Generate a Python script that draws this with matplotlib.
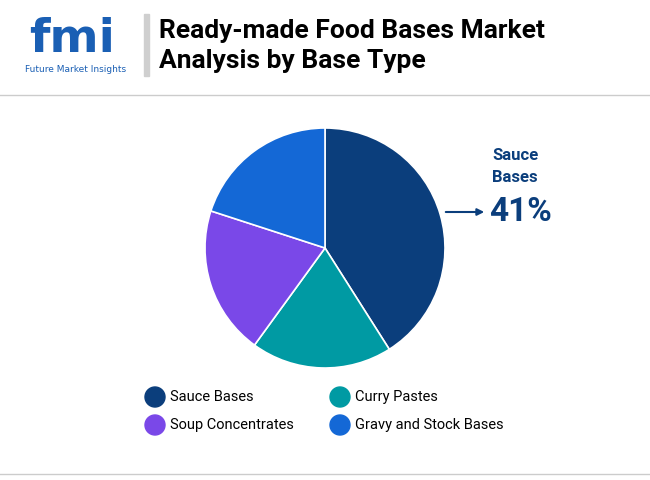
import matplotlib
matplotlib.use("Agg")
import matplotlib.pyplot as plt
from matplotlib.patches import Circle

categories = ["Sauce Bases", "Curry Pastes", "Soup Concentrates", "Gravy and Stock Bases"]
values = [41, 19, 20, 20]
colors = ["#0b3e7c", "#009aa3", "#7a48e8", "#1468d6"]

W, H = 650, 480
fig = plt.figure(figsize=(6.5, 4.8), dpi=100)
fig.patch.set_facecolor("white")
bg = fig.add_axes([0, 0, 1, 1]); bg.set_xlim(0, W); bg.set_ylim(H, 0); bg.axis("off")

# header
bg.plot([0, W], [95, 95], color="#cccccc", lw=1)
bg.plot([0, W], [474, 474], color="#cccccc", lw=1)
bg.add_patch(plt.Rectangle((144, 14), 5, 62, color="#cfcfcf"))
bg.text(159, 31, "Ready-made Food Bases Market", fontsize=19, fontweight="bold", va="center", family="Roboto")
bg.text(159, 61, "Analysis by Base Type", fontsize=19, fontweight="bold", va="center", family="Roboto")
bg.text(72, 40, "fmi", fontsize=34, fontweight="bold", color="#1a5fb4", ha="center", va="center", family="DejaVu Sans")
bg.text(76, 69, "Future Market Insights", fontsize=6.5, color="#1a5fb4", ha="center", va="center")

# pie
r = 120; cx, cy = 325, 248
ax = fig.add_axes([(cx - r) / W, 1 - (cy + r) / H, 2 * r / W, 2 * r / H])
ax.pie(values, colors=colors, startangle=90, counterclock=False,
       wedgeprops=dict(edgecolor="white", linewidth=1.2))
ax.set_aspect("auto")
ax.set_xlim(-1, 1); ax.set_ylim(-1, 1)

# annotation
bg.annotate("", xy=(487, 212), xytext=(443, 212),
            arrowprops=dict(arrowstyle="-|>", color="#0b3e7c", lw=1.5))
bg.text(492, 156, "Sauce", fontsize=12, fontweight="bold", color="#0b3e7c", va="center", family="Roboto")
bg.text(492, 178, "Bases", fontsize=12, fontweight="bold", color="#0b3e7c", va="center", family="Roboto")
bg.text(489, 212, "41%", fontsize=24, fontweight="bold", color="#0b3e7c", va="center", family="Roboto")

# legend
pos = [(155, 397), (340, 397), (155, 425), (340, 425)]
for (x, y), lab, c in zip(pos, categories, colors):
    bg.add_patch(Circle((x, y), 10, color=c))
    bg.text(x + 15, y, lab, fontsize=10.5, va="center", family="Roboto")

fig.savefig("out.png", dpi=100)
